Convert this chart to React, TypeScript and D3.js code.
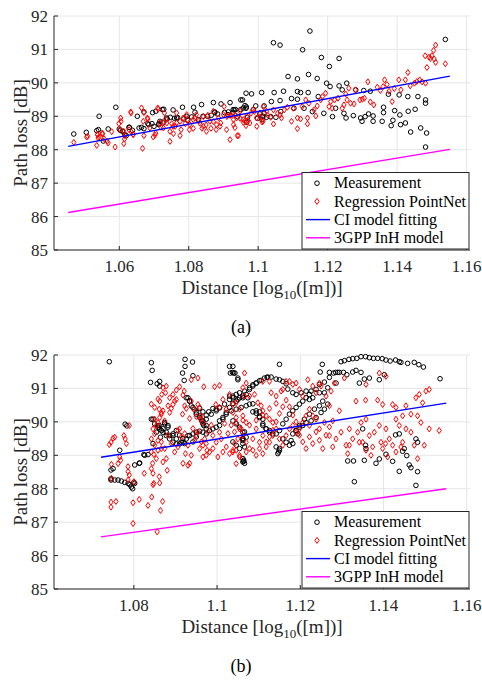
import * as d3 from 'd3';
import React from 'react';

// axis ticks + legend text
const yTicks = [85, 86, 87, 88, 89, 90, 91, 92];
const xTicksA = [1.06, 1.08, 1.1, 1.12, 1.14, 1.16];
const xTicksB = [1.08, 1.1, 1.12, 1.14, 1.16];
const legendLabels = ['Measurement', 'Regression PointNet', 'CI model fitting', '3GPP InH model'];

// (a) measurement, [log10 distance, path loss dB]
const measuredA = [
  [1.0469,88.47],[1.0505,88.52],[1.0535,88.57],[1.0540,88.60],[1.0542,89.00],[1.0554,88.26],[1.0568,88.62],[1.0590,89.27],
  [1.0600,88.62],[1.0603,88.58],[1.0616,88.45],[1.0620,88.42],[1.0629,88.67],[1.0638,88.58],[1.0652,89.00],[1.0664,88.67],
  [1.0671,88.63],[1.0682,88.78],[1.0694,88.78],[1.0696,89.11],[1.0714,88.78],[1.0726,88.80],[1.0728,89.21],[1.0738,88.92],
  [1.0747,88.97],[1.0755,89.19],[1.0759,88.94],[1.0768,88.96],[1.0782,89.27],[1.0786,88.92],[1.0797,88.88],[1.0808,88.98],
  [1.0814,89.27],[1.0818,89.12],[1.0828,88.90],[1.0837,89.35],[1.0841,89.00],[1.0854,89.00],[1.0865,89.03],[1.0871,89.41],
  [1.0875,89.11],[1.0883,89.07],[1.0893,89.37],[1.0903,89.11],[1.0913,89.05],[1.0919,89.41],[1.0928,89.12],[1.0935,89.20],
  [1.0955,89.49],[1.0950,89.20],[1.0965,89.69],[1.0962,89.32],
  [1.0609,88.55],[1.0628,88.67],[1.0657,88.65],[1.0671,89.13],[1.0685,88.75],[1.0700,88.70],[1.0705,89.15],[1.0714,88.75],
  [1.0724,89.20],[1.0875,89.13],[1.0914,89.13],[1.0928,89.20],[1.0957,89.25],[1.0966,89.28],[1.0986,89.20],[1.1005,89.07],
  [1.1014,89.00],[1.1024,88.97],[1.0717,88.85],[1.0736,88.95],[1.0765,88.95],[1.0794,89.00],
  [1.1044,91.20],[1.1063,91.13],[1.1149,91.55],[1.1128,90.99],[1.1182,90.76],[1.1233,90.73],[1.1205,90.49],[1.1086,90.19],
  [1.1113,90.12],[1.1145,90.25],[1.1170,90.13],[1.1197,89.99],[1.1207,89.89],[1.1233,89.91],[1.1255,89.99],[1.1242,89.79],
  [1.1281,89.79],[1.1304,89.77],[1.1323,89.75],[1.1375,89.66],[1.1406,89.64],[1.1431,89.59],[1.1460,89.59],[1.1482,89.49],
  [1.1482,89.39],[1.1539,91.30],[1.0950,89.49],[1.0981,89.67],[1.1010,89.71],[1.1046,89.71],[1.1073,89.75],[1.1113,89.74],
  [1.1122,89.71],[1.1144,89.71],[1.1173,89.59],[1.0993,89.31],[1.1017,89.31],[1.1038,89.44],[1.1063,89.47],[1.1096,89.53],
  [1.1113,89.51],[1.0931,89.19],[1.0965,89.24],[1.1017,89.09],[1.1036,88.99],[1.1051,88.97],[1.1065,89.14],[1.1103,89.24],
  [1.1132,89.24],[1.1156,89.14],[1.1189,89.09],[1.1214,88.99],[1.1223,89.24],[1.1247,89.09],[1.1253,88.95],[1.1274,89.02],
  [1.1295,88.95],[1.1299,88.85],[1.1308,88.99],[1.1318,89.07],[1.1331,89.01],[1.1331,88.85],[1.1357,88.85],[1.1361,89.27],
  [1.1361,89.11],[1.1383,88.72],[1.1388,88.88],[1.1393,89.17],[1.1408,89.04],[1.1410,88.75],[1.1424,88.80],[1.1432,89.15],
  [1.1439,88.53],[1.1452,89.21],[1.1468,88.65],[1.1485,88.50],[1.1482,88.08],[1.0969,88.97],[1.0998,88.94],[1.1011,88.90],
  [1.0941,88.99],[1.0967,88.82],
];

// (a) PointNet regression
const pointnetA = [
  [1.0469,88.22],[1.0506,88.38],[1.0535,88.13],[1.0538,88.45],[1.0542,88.38],[1.0552,88.47],[1.0568,88.20],[1.0578,88.54],
  [1.0588,88.08],[1.0599,88.78],[1.0604,88.95],[1.0613,88.18],[1.0616,88.42],[1.0634,89.10],[1.0640,88.46],[1.0667,88.04],
  [1.0664,89.25],[1.0671,89.11],[1.0671,88.42],[1.0682,88.92],[1.0698,88.38],[1.0703,88.44],[1.0712,89.21],[1.0727,88.84],
  [1.0730,89.10],[1.0746,88.25],[1.0756,88.48],[1.0761,88.70],[1.0765,89.10],[1.0775,88.42],[1.0778,88.60],[1.0790,88.78],
  [1.0796,88.90],[1.0802,88.60],[1.0813,88.64],[1.0829,88.86],[1.0838,88.64],[1.0850,88.74],[1.0855,89.03],[1.0864,88.64],
  [1.0871,88.84],[1.0879,88.60],[1.0892,88.80],[1.0902,89.29],[1.0910,88.99],[1.0919,89.03],[1.0929,88.90],[1.0940,88.42],
  [1.0948,88.94],[1.0962,88.86],[1.0688,88.65],[1.0720,88.67],[1.0737,88.80],[1.0751,88.78],[1.0818,88.95],[1.0842,88.99],
  [1.0886,88.95],[1.0934,89.04],
  [1.0509,88.40],[1.0537,88.45],[1.0539,88.35],[1.0551,88.50],[1.0556,88.33],[1.0565,88.25],[1.0602,88.60],[1.0605,88.85],
  [1.0613,88.55],[1.0615,88.32],[1.0628,88.60],[1.0633,89.13],[1.0635,88.53],[1.0640,88.45],[1.0669,88.85],[1.0681,88.95],
  [1.0705,88.50],[1.0711,89.25],
  [1.0717,88.80],[1.0727,88.65],[1.0736,88.90],[1.0746,88.55],[1.0755,88.70],[1.0765,88.80],[1.0775,88.85],[1.0784,88.95],
  [1.0794,89.05],[1.0803,88.75],[1.0813,88.90],[1.0822,89.05],[1.0832,88.80],[1.0842,88.70],[1.0851,88.55],[1.0861,88.85],
  [1.0871,89.15],[1.0880,88.75],[1.0890,88.70],[1.0900,89.05],[1.0909,88.60],[1.0919,88.30],[1.0929,88.75],[1.0938,88.95],
  [1.0948,89.15],[1.0957,88.90],[1.0967,89.00],[1.0976,88.80],[1.0986,89.20],[1.0995,88.95],[1.1005,89.10],[1.1014,88.85],
  [1.1024,89.15],
  [1.0922,89.03],[1.0933,88.66],[1.0943,88.42],[1.0957,88.82],[1.0965,88.72],[1.0971,88.88],[1.0979,89.09],[1.0989,89.14],
  [1.0996,88.70],[1.1006,88.98],[1.1011,88.83],[1.1015,89.29],[1.1027,89.04],[1.1036,88.97],[1.1044,89.19],[1.1044,88.77],
  [1.1056,89.09],[1.1063,89.04],[1.1067,88.95],[1.1075,89.19],[1.1084,89.27],[1.1096,88.85],[1.1101,89.24],[1.1113,88.95],
  [1.1113,88.63],[1.1122,88.92],[1.1127,89.29],[1.1137,89.49],[1.1142,88.95],[1.1142,88.77],[1.1146,89.39],[1.1161,89.19],
  [1.1166,89.01],[1.1170,89.31],[1.1180,89.49],[1.1185,89.59],[1.1194,89.69],[1.1204,89.29],[1.1209,89.44],[1.1213,89.24],
  [1.1220,89.49],[1.1230,89.54],[1.1242,89.24],[1.1247,89.34],[1.1252,89.67],[1.1256,89.49],[1.1261,89.84],[1.1266,89.39],
  [1.1276,89.37],[1.1280,89.79],[1.1293,89.49],[1.1300,89.51],[1.1306,89.54],[1.1316,90.03],[1.1323,89.43],[1.1333,89.34],
  [1.1343,89.87],[1.1352,89.77],[1.1360,89.89],[1.1364,90.09],[1.1371,89.95],[1.1377,89.75],[1.1386,89.44],[1.1392,89.83],
  [1.1405,90.09],[1.1411,89.79],[1.1424,90.09],[1.1431,90.31],[1.1438,89.91],[1.1450,89.99],[1.1457,90.04],[1.1465,90.09],
  [1.1472,90.03],[1.1482,89.99],[1.1481,90.81],[1.1486,90.46],[1.1492,90.77],[1.1496,90.73],[1.1500,90.81],[1.1505,90.97],
  [1.1507,90.71],[1.1511,91.13],[1.1511,90.61],[1.1539,90.57],
];

// (b) measurement
const measuredB = [
  [1.0741,91.80],[1.0745,88.26],[1.0754,88.26],[1.0762,88.26],[1.0770,88.23],[1.0778,88.19],[1.0786,88.16],[1.0790,88.12],
  [1.0794,88.05],[1.0797,88.00],[1.0800,88.19],[1.0802,88.16],[1.0745,88.30],[1.0745,88.56],[1.0750,88.60],[1.0766,89.15],
  [1.0779,89.93],[1.0783,89.88],[1.0802,88.71],[1.0813,88.76],[1.0824,89.02],[1.0834,89.02],[1.0842,91.77],[1.0844,91.54],
  [1.0840,91.18],[1.0856,91.14],[1.0862,91.21],[1.0862,91.07],[1.0923,91.87],[1.0923,91.66],[1.0941,91.79],[1.0917,91.46],
  [1.0921,91.24],[1.0942,91.38],[1.0846,90.08],[1.0846,89.35],[1.0854,89.69],[1.0861,89.89],[1.0864,89.54],[1.0870,89.79],
  [1.0874,89.98],[1.0878,89.69],[1.0882,89.84],[1.0886,89.59],[1.0894,89.59],[1.0902,89.49],[1.0914,89.39],[1.0922,89.35],
  [1.0930,89.59],[1.0930,90.72],[1.0934,90.62],[1.0938,90.48],[1.0945,90.38],[1.0950,90.28],[1.0958,90.18],[1.0963,90.03],
  [1.0968,89.89],[1.0974,89.79],[1.0982,89.74],[1.0990,89.79],[1.0998,89.84],[1.1006,89.89],[1.1014,90.08],[1.1022,90.28],
  [1.1030,90.43],[1.1038,90.55],[1.1046,90.62],[1.1054,90.72],[1.1062,90.77],[1.1070,90.82],[1.1030,91.66],[1.1037,91.48],
  [1.1043,91.46],[1.1050,91.31],[1.1062,88.90],[1.1064,88.82],[1.0958,90.40],[1.0966,90.30],[1.0974,90.20],[1.0980,90.30],
  [1.0990,90.40],[1.0998,90.38],[1.1006,90.42],[1.0910,89.60],[1.0918,89.50],[1.0942,89.40],[1.0950,89.55],[1.1038,89.40],
  [1.1046,89.30],[1.1054,89.20],[1.1062,89.50],[1.1066,89.70],
  [1.0842,90.08],[1.0850,89.94],[1.0858,89.89],[1.0862,89.79],[1.0870,89.69],[1.0878,89.59],[1.0886,89.49],[1.0894,89.39],
  [1.0902,89.34],[1.0910,89.34],[1.0918,89.39],[1.0926,89.49],[1.0934,89.59],[1.0942,89.64],[1.0950,89.69],[1.0958,89.72],
  [1.0966,89.69],[1.0974,89.64],[1.0858,89.84],[1.0866,89.74],[1.0874,89.94],[1.0882,89.89],[1.0894,89.64],[1.0902,89.74],
  [1.0926,90.72],[1.0934,90.62],[1.0942,90.43],[1.0950,90.23],[1.0958,90.13],[1.0966,90.03],[1.0974,89.89],[1.0814,88.77],
  [1.0826,89.00],
  [1.0966,89.94],[1.0974,90.08],[1.0986,90.23],[1.0998,90.33],[1.1006,90.43],[1.1018,90.53],[1.1030,90.67],[1.1038,90.77],
  [1.1046,90.82],[1.1054,90.87],[1.1066,90.92],[1.1078,91.02],[1.1086,91.11],[1.1094,91.16],[1.1102,91.23],[1.1114,91.31],
  [1.1122,91.34],[1.1006,90.03],[1.1014,90.13],[1.1022,90.23],[1.1034,90.33],[1.1046,90.38],[1.1058,90.43],[1.1070,90.48],
  [1.1078,90.53],[1.1086,90.54],[1.1094,90.33],[1.1102,90.13],[1.1110,89.94],[1.1118,89.79],[1.1126,89.69],[1.1134,89.64],
  [1.1142,89.64],[1.1150,89.74],[1.1158,89.94],[1.1166,90.08],[1.1174,90.23],[1.1182,90.33],[1.1190,90.43],[1.1198,90.53],
  [1.1206,90.62],[1.1214,90.72],[1.1222,90.82],[1.1038,90.03],[1.1046,89.94],[1.1054,89.84],[1.1062,89.69],[1.1070,89.54],
  [1.1062,89.44],[1.1066,89.25],[1.1182,89.64],[1.1190,89.74],[1.1198,89.84],[1.1206,89.89],[1.1214,89.98],[1.1226,90.03],
  [1.1238,90.13],[1.1250,90.28],[1.1258,90.38],[1.1266,90.53],[1.1142,89.25],[1.1150,89.15],[1.1146,89.05],
  [1.1298,91.80],[1.1306,91.83],[1.1317,91.87],[1.1326,91.89],[1.1336,91.90],[1.1346,91.95],[1.1357,91.95],[1.1366,91.92],
  [1.1376,91.90],[1.1386,91.90],[1.1397,91.89],[1.1406,91.85],[1.1416,91.82],[1.1429,91.85],[1.1438,91.80],[1.1442,91.78],
  [1.1458,91.75],[1.1474,91.78],[1.1485,91.71],[1.1496,91.64],[1.1150,91.72],[1.1253,91.72],[1.1536,91.29],
  [1.1248,91.49],[1.1270,91.48],[1.1285,91.48],[1.1294,91.48],[1.1304,91.48],[1.1312,91.41],[1.1326,91.49],[1.1334,91.54],
  [1.1346,91.48],[1.1038,91.66],[1.1032,91.46],[1.1040,91.46],[1.1050,91.26],[1.1078,90.97],[1.1086,91.07],[1.1094,91.16],
  [1.1106,91.24],[1.1120,91.33],[1.1130,91.34],[1.1142,91.28],[1.1150,91.26],[1.1158,91.21],[1.1166,91.14],[1.1030,90.77],
  [1.1038,90.72],[1.1050,90.67],[1.1062,90.72],[1.1074,90.72],[1.1170,90.98],[1.1182,90.87],[1.1190,90.82],[1.1202,90.87],
  [1.1214,90.92],[1.1226,90.92],[1.1238,90.97],[1.1246,91.12],[1.1258,91.19],[1.1270,91.33],[1.1280,91.46],[1.1290,91.48],
  [1.1222,90.67],[1.1230,90.72],[1.1246,90.87],[1.1258,90.87],[1.1266,91.02],[1.1254,90.62],[1.1246,90.48],[1.1234,90.38],
  [1.1222,90.23],[1.1210,90.08],[1.1198,89.89],[1.1190,89.74],[1.1194,89.64],[1.1158,89.49],[1.1166,89.39],[1.1178,89.44],
  [1.1182,89.35],[1.1174,89.30],[1.1110,90.08],[1.1102,90.16],[1.1094,90.26],[1.1086,90.30],[1.1102,90.30],[1.1110,89.89],
  [1.1118,89.79],[1.1126,89.74],[1.1062,89.49],[1.1062,89.35],[1.1064,88.85],[1.1062,88.80],[1.1066,88.76],[1.1150,89.20],
  [1.1148,89.10],[1.1286,91.16],[1.1342,91.16],[1.1354,91.28],[1.1366,91.31],[1.1390,91.26],[1.1402,91.41],[1.1314,88.83],
  [1.1328,88.83],[1.1354,88.85],[1.1357,89.30],[1.1358,89.20],[1.1350,89.79],[1.1382,88.76],[1.1390,88.89],[1.1406,89.03],
  [1.1422,88.82],[1.1429,89.61],[1.1438,89.64],[1.1450,89.20],[1.1446,89.12],[1.1478,89.49],[1.1482,89.39],[1.1482,88.51],
  [1.1462,88.71],[1.1466,88.63],[1.1330,88.21],[1.1478,88.10],[1.1438,88.52],[1.1456,88.99],
];

// (b) PointNet regression
const pointnetB = [
  [1.0741,89.32],[1.0745,89.39],[1.0750,89.51],[1.0754,89.54],[1.0746,88.73],[1.0746,88.31],[1.0766,88.95],[1.0768,88.85],
  [1.0762,88.75],[1.0776,89.59],[1.0779,89.49],[1.0782,89.35],[1.0789,89.89],[1.0786,88.66],[1.0786,88.51],[1.0789,88.41],
  [1.0786,88.26],[1.0800,88.21],[1.0825,88.46],[1.0846,88.46],[1.0845,88.76],[1.0848,89.02],[1.0846,88.12],[1.0861,88.36],
  [1.0862,88.17],[1.0870,88.80],[1.0842,89.49],[1.0846,89.79],[1.0850,90.08],[1.0854,89.89],[1.0858,89.98],[1.0862,90.13],
  [1.0866,90.28],[1.0870,90.33],[1.0862,90.62],[1.0861,90.38],[1.0867,90.82],[1.0870,91.02],[1.0878,91.07],[1.0876,90.87],
  [1.0882,90.48],[1.0886,90.28],[1.0890,90.40],[1.0894,90.52],[1.0898,90.62],[1.0902,90.67],[1.0906,89.74],[1.0910,89.79],
  [1.0917,90.23],[1.0921,90.92],[1.0922,90.48],[1.0918,88.76],[1.0924,89.05],[1.0930,88.70],[1.0934,88.76],[1.0938,91.26],
  [1.0938,90.62],[1.0944,90.38],[1.0950,90.16],[1.0954,90.52],[1.0958,90.43],[1.0954,91.31],[1.0962,90.18],[1.0966,89.98],
  [1.0970,89.49],[1.0974,89.35],[1.0976,89.15],[1.0982,89.10],[1.0960,90.08],[1.0968,91.05],[1.0994,91.05],[1.1006,91.09],
  [1.0997,90.52],[1.1006,90.43],[1.1014,90.67],[1.1022,90.38],[1.1030,90.82],[1.1038,90.52],[1.0990,89.59],[1.0998,89.39],
  [1.1006,89.69],[1.1010,89.49],[1.1038,89.15],[1.1042,89.35],[1.1050,89.49],[1.1058,89.79],[1.1066,91.46],[1.1070,91.16],
  [1.0745,87.60],[1.0745,87.45],[1.0757,87.62],[1.0798,87.58],[1.0798,86.96],[1.0813,87.68],[1.0834,87.50],[1.0843,87.75],
  [1.0848,88.16],[1.0864,87.35],[1.0869,87.62],[1.0856,86.71],
  [1.0842,90.53],[1.0850,90.43],[1.0858,90.68],[1.0866,90.23],[1.0874,90.03],[1.0850,89.64],[1.0858,89.44],[1.0866,89.20],
  [1.0842,89.10],[1.0878,88.90],[1.0886,90.72],[1.0894,90.82],[1.0902,90.95],[1.0910,91.05],[1.0918,90.80],[1.0926,90.40],
  [1.0934,90.10],[1.0942,89.80],[1.0950,89.60],[1.0958,89.20],[1.0966,88.95],
  [1.0966,89.30],[1.0974,89.00],[1.0990,89.20],[1.1002,88.95],[1.1014,89.10],[1.1022,89.25],[1.1030,89.05],[1.1046,89.15],
  [1.1054,88.95],[1.1070,89.10],[1.1086,89.15],[1.1094,89.00],[1.1102,89.20],[1.1110,89.05],[1.1118,89.40],[1.1126,89.55],
  [1.1134,89.75],[1.1142,90.00],[1.1150,90.25],[1.1158,90.45],[1.1166,90.65],[1.1174,90.45],[1.1182,90.20],[1.1190,90.00],
  [1.1198,89.60],[1.1206,89.40],[1.1214,89.20],[1.1222,89.55],[1.1230,89.35],[1.1238,89.70],[1.1246,89.45],[1.1254,89.20],
  [1.1262,89.60],[1.1270,89.85],[1.1278,89.25],[1.1062,90.05],[1.1078,89.90],[1.1094,90.05],[1.1110,90.20],[1.1126,90.40],
  [1.1142,90.55],
  [1.1038,89.10],[1.1062,91.02],[1.1066,90.77],[1.1046,90.57],[1.1054,90.38],[1.1062,90.18],[1.1046,90.13],[1.1070,89.98],
  [1.1078,90.77],[1.1090,90.82],[1.1098,90.57],[1.1106,90.48],[1.1110,90.33],[1.1118,90.18],[1.1126,90.08],[1.1134,89.98],
  [1.1110,91.21],[1.1126,91.21],[1.1130,90.87],[1.1142,90.77],[1.1154,90.92],[1.1158,90.97],[1.1166,91.21],[1.1174,91.21],
  [1.1182,91.12],[1.1190,91.16],[1.1198,90.97],[1.1206,90.77],[1.1218,91.26],[1.1230,91.07],[1.1238,90.87],[1.1246,91.16],
  [1.1250,91.07],[1.1262,90.77],[1.1270,90.48],[1.1274,90.92],[1.1282,91.16],[1.1294,90.33],[1.1306,91.31],[1.1334,90.62],
  [1.1357,90.65],[1.1358,91.12],[1.1386,90.65],[1.1390,91.46],[1.1398,90.52],[1.1406,91.36],[1.1422,90.52],[1.1430,90.43],
  [1.1446,90.18],[1.1454,90.48],[1.1466,90.23],[1.1478,90.72],[1.1486,90.82],[1.1502,90.92],[1.1510,90.97],[1.1494,90.57],
  [1.1482,90.18],[1.1534,89.74],[1.1222,89.89],[1.1246,89.79],[1.1258,89.98],[1.1270,89.59],[1.1278,90.03],[1.1286,89.49],
  [1.1298,89.69],[1.1310,89.30],[1.1318,89.79],[1.1326,89.49],[1.1338,89.69],[1.1346,89.98],[1.1350,89.39],[1.1358,90.08],
  [1.1366,89.59],[1.1370,89.00],[1.1378,89.69],[1.1390,89.89],[1.1394,89.39],[1.1406,89.79],[1.1414,89.49],[1.1422,89.30],
  [1.1430,90.08],[1.1438,89.89],[1.1446,89.39],[1.1454,89.79],[1.1466,89.69],[1.1474,89.30],[1.1482,88.90],[1.1490,89.98],
  [1.1498,89.30],[1.1510,89.79],[1.1314,89.05],[1.1318,89.30],[1.1342,89.39],[1.1358,89.15],[1.1374,89.25],[1.1398,89.20],
  [1.1405,89.35],[1.1410,88.95],[1.1430,89.10],[1.1442,89.25],[1.1038,90.28],[1.1046,89.98],[1.1054,89.79],[1.1062,89.59],
  [1.1070,89.39],[1.1078,89.20],[1.1086,89.49],[1.1094,89.79],[1.1102,89.39],[1.1110,89.59],[1.1118,89.25],[1.1126,89.39],
  [1.1134,89.59],[1.1142,89.79],[1.1150,89.49],[1.1158,89.30],[1.1166,89.59],[1.1174,89.79],[1.1182,89.89],[1.1190,89.69],
  [1.1198,89.79],[1.1206,89.98],[1.1214,90.18],[1.1222,90.38],[1.1230,90.18],[1.1238,90.08],
  [1.0850,89.30],[1.0858,89.15],[1.0866,89.40],[1.0874,89.20],[1.0882,89.60],[1.0890,89.35],[1.0898,89.10],[1.0906,89.25],
  [1.0914,89.55],[1.0922,89.65],[1.0930,89.30],[1.0938,89.00],[1.0946,89.45],[1.0954,89.70],[1.0962,89.40],[1.0978,89.70],
  [1.0986,89.90],[1.1018,89.95],[1.1026,89.65],[1.1034,89.90],[1.1042,89.70],[1.1046,88.75],[1.1054,89.00],[1.0880,88.55],
  [1.0854,88.90],[1.0842,88.60],
];

// model lines (end points)
const ciA = [[1.0453, 88.10], [1.1552, 90.20]];
const inhA = [[1.0453, 86.12], [1.1552, 88.01]];
const ciB = [[1.0721, 88.94], [1.1551, 90.56]];
const inhB = [[1.0721, 86.56], [1.1551, 88.00]];

const FONT = 'Liberation Serif';
const INK = '#262626';

const diamond = (cx: number, cy: number) =>
  `M${cx},${cy - 3}L${cx + 2.1},${cy}L${cx},${cy + 3}L${cx - 2.1},${cy}Z`;

const Panel = (props: any) => {
  const { top, measured, pointnet, ci, inh, xDomain, xTicks, caption } = props;
  const left = 54, right = 470, bottom = top + 234;
  const x = d3.scaleLinear().domain(xDomain).range([left, right]);
  const y = d3.scaleLinear().domain([85, 92]).range([bottom, top]);
  const line = d3.line<number[]>().x(d => x(d[0])).y(d => y(d[1]));

  const lx0 = 302, lx1 = 469, ly0 = bottom - 77.5;
  const rowY = (i: number) => ly0 + 10.7 + i * 18.2;

  return (
    <g fontFamily={FONT} fill={INK}>
      {/* grid */}
      {xTicks.map((t: number) => (
        <line key={'gx' + t} x1={x(t)} x2={x(t)} y1={top} y2={bottom} stroke="#e6e6e6" />
      ))}
      {yTicks.map(t => (
        <line key={'gy' + t} x1={left} x2={right} y1={y(t)} y2={y(t)} stroke="#e6e6e6" />
      ))}

      {/* data */}
      {measured.map((d: number[], i: number) => (
        <circle key={'m' + i} cx={x(d[0])} cy={y(d[1])} r={2.3} fill="none" stroke="#000" strokeWidth={1} />
      ))}
      {pointnet.map((d: number[], i: number) => (
        <path key={'p' + i} d={diamond(x(d[0]), y(d[1]))} fill="none" stroke="#ff0000" strokeWidth={1} />
      ))}
      <path d={line(ci) || ''} stroke="#0000ff" strokeWidth={1.4} fill="none" />
      <path d={line(inh) || ''} stroke="#ff00ff" strokeWidth={1.4} fill="none" />

      {/* axes */}
      <line x1={left} x2={left} y1={top} y2={bottom} stroke={INK} />
      <line x1={left} x2={right} y1={bottom} y2={bottom} stroke={INK} />
      {yTicks.map(t => (
        <g key={'ty' + t}>
          <line x1={left} x2={left + 4} y1={y(t)} y2={y(t)} stroke={INK} />
          <text x={48} y={y(t)} dy="0.35em" textAnchor="end" fontSize={17}>{t}</text>
        </g>
      ))}
      {xTicks.map((t: number) => (
        <g key={'tx' + t}>
          <line x1={x(t)} x2={x(t)} y1={bottom} y2={bottom - 4} stroke={INK} />
          <text x={x(t)} y={bottom + 22} textAnchor="middle" fontSize={17}>{String(t)}</text>
        </g>
      ))}
      <text transform={`translate(27,${(top + bottom) / 2}) rotate(-90)`} textAnchor="middle" fontSize={19}>
        Path loss [dB]
      </text>
      <text x={(left + right) / 2} y={bottom + 44} textAnchor="middle" fontSize={19}>
        <tspan>Distance [log</tspan>
        <tspan dy={5} fontSize={13}>10</tspan>
        <tspan dy={-5}>([m])]</tspan>
      </text>

      {/* legend */}
      <rect x={lx0} y={ly0} width={lx1 - lx0} height={76.5} fill="#fff" stroke={INK} strokeWidth={1} />
      <circle cx={317} cy={rowY(0)} r={2.3} fill="none" stroke="#000" />
      <path d={diamond(317, rowY(1))} fill="none" stroke="#ff0000" />
      <line x1={306} x2={330} y1={rowY(2)} y2={rowY(2)} stroke="#0000ff" strokeWidth={1.4} />
      <line x1={306} x2={330} y1={rowY(3)} y2={rowY(3)} stroke="#ff00ff" strokeWidth={1.4} />
      {legendLabels.map((s, i) => (
        <text key={s} x={334} y={rowY(i)} dy="0.33em" fontSize={16} fill="#000">{s}</text>
      ))}

      <text x={241} y={bottom + 83} textAnchor="middle" fontSize={18} fill="#000">{caption}</text>
    </g>
  );
};

export default function App() {
  return (
    <svg width={482} height={681} style={{ position: 'absolute', left: 0, top: 0, background: '#fff' }}>
      <Panel top={16} measured={measuredA} pointnet={pointnetA} ci={ciA} inh={inhA}
        xDomain={[1.0412, 1.161]} xTicks={xTicksA} caption="(a)" />
      <Panel top={355} measured={measuredB} pointnet={pointnetB} ci={ciB} inh={inhB}
        xDomain={[1.0608, 1.1608]} xTicks={xTicksB} caption="(b)" />
    </svg>
  );
}
